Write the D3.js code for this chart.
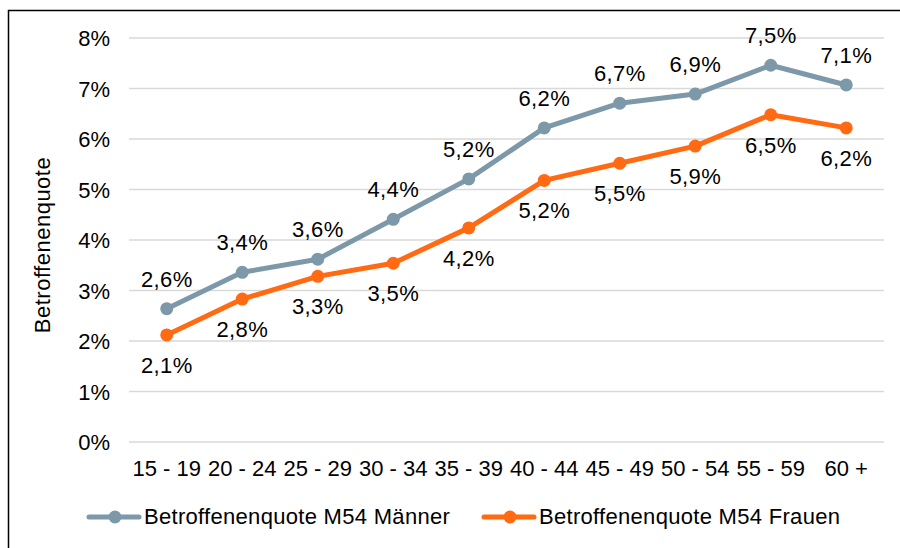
<!DOCTYPE html>
<html>
<head>
<meta charset="utf-8">
<script src="https://d3js.org/d3.v7.min.js"></script>
<style>
  body { margin: 0; background: #fff; }
  text { font-family: "Liberation Sans", Arial, sans-serif; fill: #000; }
</style>
</head>
<body>
<div id="chart"></div>
<script>
  var categories = ["15 - 19", "20 - 24", "25 - 29", "30 - 34", "35 - 39", "40 - 44", "45 - 49", "50 - 54", "55 - 59", "60 +"];
  var maenner = [2.64, 3.36, 3.62, 4.41, 5.21, 6.22, 6.71, 6.89, 7.46, 7.07];
  var frauen = [2.12, 2.83, 3.28, 3.54, 4.24, 5.18, 5.52, 5.86, 6.48, 6.22];
  var yTicks = [0, 1, 2, 3, 4, 5, 6, 7, 8];
  var seriesNames = ["Betroffenenquote M54 Männer", "Betroffenenquote M54 Frauen"];
  var colors = ["#7d99a9", "#ff6a13"];

  var width = 900, height = 548;
  var fs = 22;
  var svg = d3.select("#chart").append("svg")
    .attr("width", width)
    .attr("height", height);

  // frame
  svg.append("rect")
    .attr("x", 8.5).attr("y", 10.5)
    .attr("width", 900).attr("height", 560)
    .attr("fill", "none").attr("stroke", "#000").attr("stroke-width", 1.5);

  var x = d3.scaleBand().domain(categories).range([129, 884]);
  var y = d3.scaleLinear().domain([0, 8]).range([442, 38]);

  // gridlines
  svg.append("g").selectAll("line")
    .data(yTicks)
    .enter().append("line")
    .attr("x1", 129).attr("x2", 884)
    .attr("y1", function(d) { return y(d); })
    .attr("y2", function(d) { return y(d); })
    .attr("stroke", "#d9d9d9").attr("stroke-width", 1.5);

  // y axis labels
  var yAxis = d3.axisLeft(y).tickValues(yTicks).tickSize(0).tickPadding(0)
    .tickFormat(function(d) { return d + "%"; });
  var gy = svg.append("g").attr("transform", "translate(110,0)").call(yAxis);
  gy.select(".domain").remove();
  gy.selectAll("text").attr("font-size", fs).attr("font-family", "Liberation Sans, Arial, sans-serif")
    .attr("dy", "0.36em");

  // x axis labels
  var xAxis = d3.axisBottom(x).tickSize(0).tickPadding(0);
  var gx = svg.append("g").attr("transform", "translate(0,476)").call(xAxis);
  gx.select(".domain").remove();
  gx.selectAll("text").attr("font-size", fs).attr("font-family", "Liberation Sans, Arial, sans-serif")
    .attr("dy", 0);

  // axis title
  svg.append("text")
    .attr("transform", "translate(50,245) rotate(-90)")
    .attr("text-anchor", "middle")
    .attr("font-size", fs)
    .attr("letter-spacing", 0.5)
    .text("Betroffenenquote");

  var cx = function(d, i) { return x(categories[i]) + x.bandwidth() / 2; };
  var line = d3.line()
    .x(function(d, i) { return cx(d, i); })
    .y(function(d) { return y(d); });

  var fmt = function(v) { return v.toFixed(1).replace(".", ",") + "%"; };

  [maenner, frauen].forEach(function(series, s) {
    svg.append("path")
      .datum(series)
      .attr("d", line)
      .attr("fill", "none")
      .attr("stroke", colors[s])
      .attr("stroke-width", 5)
      .attr("stroke-linejoin", "round");
    svg.append("g").selectAll("circle")
      .data(series)
      .enter().append("circle")
      .attr("cx", cx)
      .attr("cy", function(d) { return y(d); })
      .attr("r", 6.5)
      .attr("fill", colors[s]);
    svg.append("g").selectAll("text")
      .data(series)
      .enter().append("text")
      .attr("x", cx)
      .attr("y", function(d) { return s === 0 ? y(d) - 22 : y(d) + 38; })
      .attr("text-anchor", "middle")
      .attr("font-size", fs)
      .attr("letter-spacing", 0.4)
      .text(fmt);
  });

  // legend
  var legendX = [89, 484];
  seriesNames.forEach(function(name, s) {
    var g = svg.append("g").attr("transform", "translate(" + legendX[s] + ",517)");
    g.append("line").attr("x1", 0).attr("x2", 50).attr("y1", 0).attr("y2", 0)
      .attr("stroke", colors[s]).attr("stroke-width", 5).attr("stroke-linecap", "round");
    g.append("circle").attr("cx", 26).attr("cy", 0).attr("r", 6.5).attr("fill", colors[s]);
    g.append("text").attr("x", 55).attr("y", 7).attr("font-size", fs)
      .attr("letter-spacing", 0.3).text(name);
  });
</script>
</body>
</html>
